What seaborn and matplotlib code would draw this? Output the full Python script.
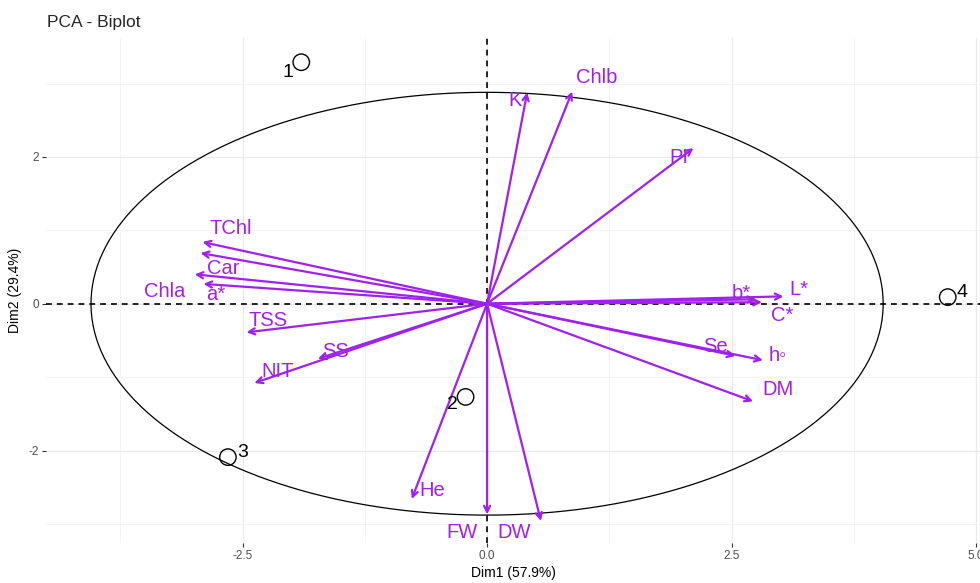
import numpy as np
import pandas as pd
import matplotlib
matplotlib.use("Agg")
import matplotlib.pyplot as plt
from matplotlib.ticker import MultipleLocator
import seaborn as sns

# ---- data -------------------------------------------------------------
variables = ["K", "Chlb", "PI", "TChl", "Car", "Chla", "a*", "TSS", "SS", "NIT",
             "He", "FW", "DW", "DM", "h\u25e6", "Se", "L*", "b*", "C*"]
var_dim1 = [0.41, 0.87, 2.11, -2.91, -2.93, -2.99, -2.90, -2.46, -1.73, -2.38,
            -0.77, 0.00, 0.55, 2.72, 2.82, 2.54, 3.03, 2.75, 2.81]
var_dim2 = [2.88, 2.89, 2.12, 0.84, 0.69, 0.40, 0.27, -0.39, -0.75, -1.08,
            -2.66, -2.87, -2.96, -1.33, -0.77, -0.71, 0.10, 0.06, 0.02]

samples = ["1", "2", "3", "4"]
ind_dim1 = [-1.90, -0.22, -2.65, 4.71]
ind_dim2 = [3.29, -1.27, -2.09, 0.09]

circle_rx, circle_ry = 4.05, 2.88

x_ticks = [-2.5, 0.0, 2.5, 5.0]
y_ticks = [-2, 0, 2]

# label placement (pixel offsets from the arrow tip / point: right, down)
var_label_offset = {
    "K": (-12, 8), "Chlb": (25, -14), "PI": (-15, 9), "TChl": (28, -14),
    "Car": (23, 15), "Chla": (-30, 17), "a*": (12, 11), "TSS": (22, -12),
    "SS": (18, -7), "NIT": (23, -11), "He": (20, -8), "FW": (-25, 18),
    "DW": (-27, 12), "DM": (25, -12), "h\u25e6": (15, -5), "Se": (-20, -9),
    "L*": (15, -7), "b*": (-15, -6), "C*": (20, 13),
}
ind_label_offset = {"1": (-13, 10), "2": (-13, 8), "3": (15, -5), "4": (14, -5)}

vars_df = pd.DataFrame({"var": variables, "Dim1": var_dim1, "Dim2": var_dim2})
ind_df = pd.DataFrame({"name": samples, "Dim1": ind_dim1, "Dim2": ind_dim2})

# ---- style ------------------------------------------------------------
sns.set_theme(style="whitegrid")
plt.rcParams["font.family"] = ["Liberation Sans", "DejaVu Sans"]
plt.rcParams["grid.color"] = "#EBEBEB"

PURPLE = "#A020F0"
PX = 72 / 100  # points per pixel at dpi 100

fig = plt.figure(figsize=(9.8, 5.83), dpi=100)
ax = fig.add_axes([46 / 980, 40 / 583, 934 / 980, 505 / 583])

ax.set_xlim(-4.51, 5.04)
ax.set_ylim(-3.26, 3.62)

# grid
ax.xaxis.set_major_locator(plt.FixedLocator(x_ticks))
ax.yaxis.set_major_locator(plt.FixedLocator(y_ticks))
ax.xaxis.set_minor_locator(MultipleLocator(2.5, offset=1.25))
ax.yaxis.set_minor_locator(MultipleLocator(2, offset=1))
ax.grid(which="major", color="#EBEBEB", lw=1.0)
ax.grid(which="minor", color="#F3F3F3", lw=0.6)
ax.set_axisbelow(True)
for s in ax.spines.values():
    s.set_visible(False)

ax.set_xticklabels([f"{t:.1f}" for t in x_ticks])
ax.set_yticklabels([str(t) for t in y_ticks])
ax.tick_params(axis="both", which="major", length=3, width=0.8, color="#333333",
               labelsize=8.5, labelcolor="#4D4D4D", pad=2, bottom=True, left=True)
ax.tick_params(axis="both", which="minor", length=0)

# reference lines through the origin
ax.axhline(0, color="black", lw=1.2, ls=(0, (3.5, 3)), zorder=1)
ax.axvline(0, color="black", lw=1.2, ls=(0, (3.5, 3)), zorder=1)

# scaled correlation circle
theta = np.linspace(0, 2 * np.pi, 400)
ax.plot(circle_rx * np.cos(theta), circle_ry * np.sin(theta), color="black", lw=0.9, zorder=2)

# variable arrows
for _, r in vars_df.iterrows():
    ax.annotate("", xy=(r.Dim1, r.Dim2), xytext=(0, 0),
                arrowprops=dict(arrowstyle="->", color=PURPLE, lw=1.6,
                                shrinkA=0, shrinkB=0, mutation_scale=11),
                zorder=3)
    dx, dy = var_label_offset[r["var"]]
    ax.annotate(r["var"], xy=(r.Dim1, r.Dim2), xytext=(dx * PX, -dy * PX),
                textcoords="offset points", ha="center", va="center",
                color=PURPLE, fontsize=14.5, zorder=4)

# individuals
sns.scatterplot(data=ind_df, x="Dim1", y="Dim2", ax=ax, s=140, marker="o",
                facecolor="none", edgecolor="black", linewidth=1.0, zorder=5)
for _, r in ind_df.iterrows():
    dx, dy = ind_label_offset[r["name"]]
    ax.annotate(r["name"], xy=(r.Dim1, r.Dim2), xytext=(dx * PX, -dy * PX),
                textcoords="offset points", ha="center", va="center",
                color="black", fontsize=14, zorder=6)

ax.set_xlabel("Dim1 (57.9%)", fontsize=10, color="black", labelpad=3)
ax.set_ylabel("Dim2 (29.4%)", fontsize=10, color="black", labelpad=5)
fig.text(47 / 980, 1 - 22 / 583, "PCA - Biplot", fontsize=12.5, ha="left", va="center")

fig.savefig("out.png", dpi=100)
